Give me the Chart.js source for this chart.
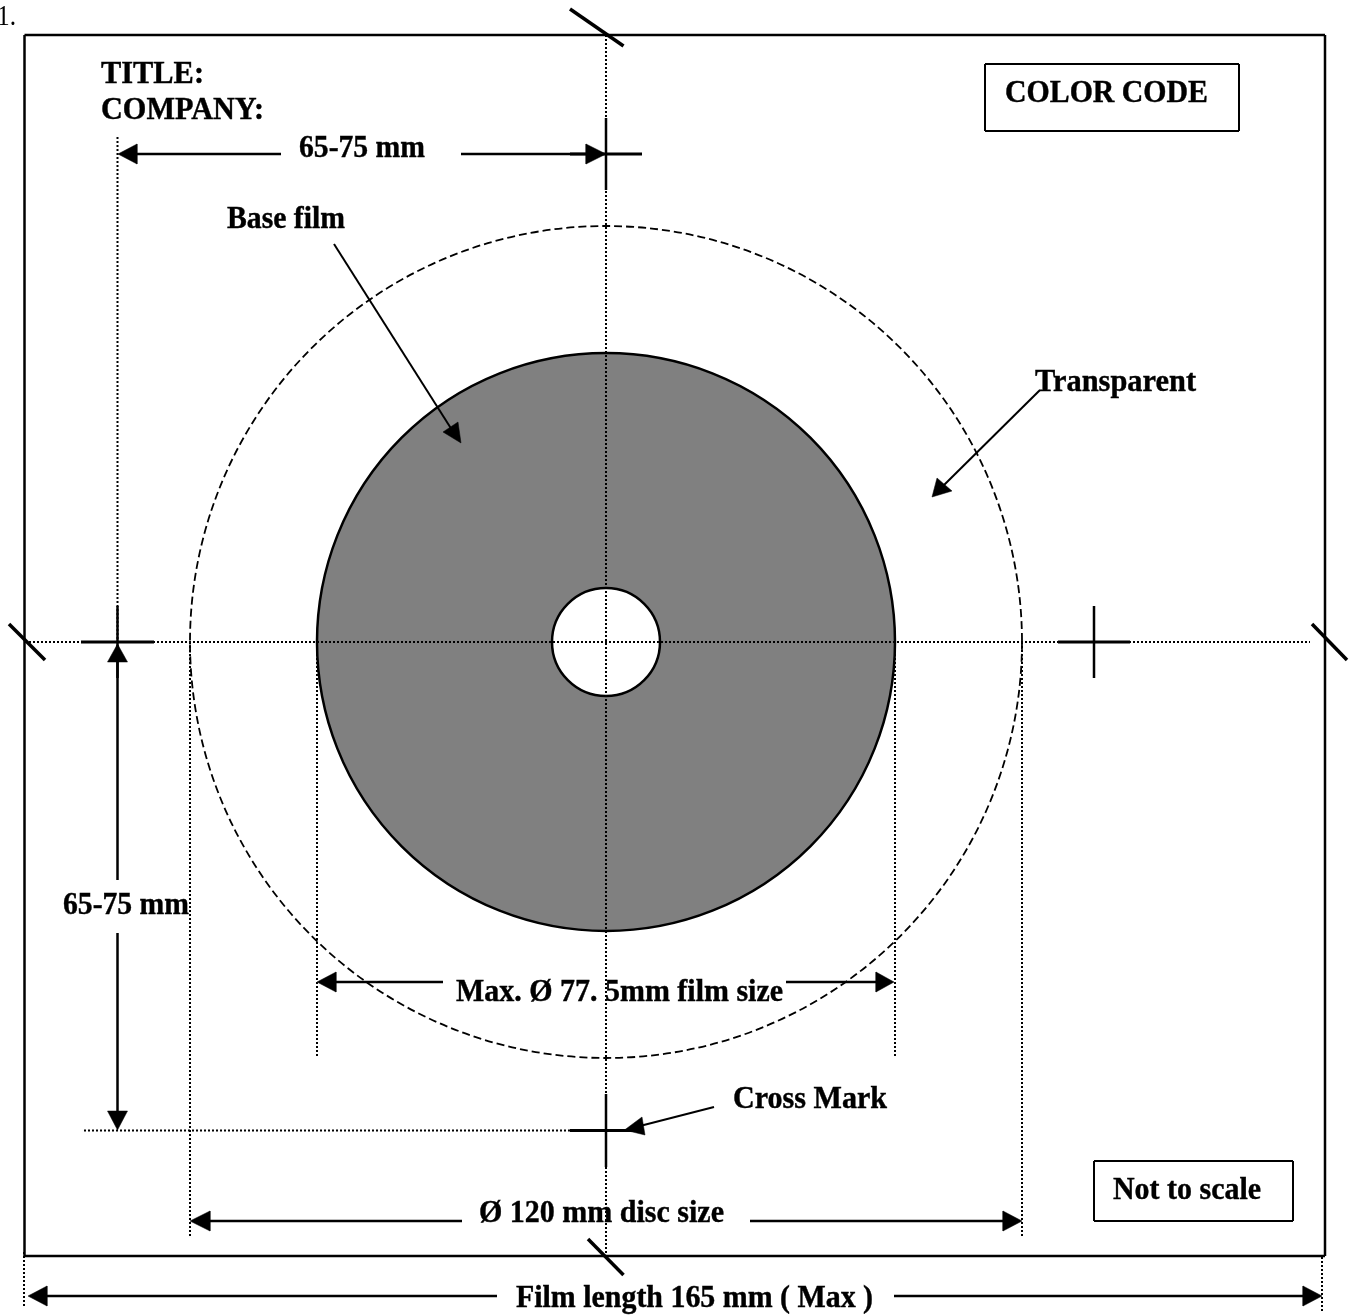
<!DOCTYPE html>
<html>
<head>
<meta charset="utf-8">
<style>html,body{margin:0;padding:0;background:#fff;overflow:hidden}canvas{display:block}</style>
<script src="https://cdn.jsdelivr.net/npm/chart.js@4"></script>
</head>
<body>
<canvas id="c" width="1355" height="1316"></canvas>
<script>
// Circles: [centre x, centre y, radius]
const filmDisc = [606, 642, 289];
const centreHole = [606, 642, 54];
const discOutline = [606, 642, 416];

// Line segments: [x1, y1, x2, y2]
const frameSides = [[24.5,35,1325,35],[1325,35,1325,1256],[1325,1256,24.5,1256],[24.5,1256,24.5,35]];
const colorBox = [[985,64,1239,64],[1239,64,1239,131],[1239,131,985,131],[985,131,985,64]];
const scaleBox = [[1094,1161,1293,1161],[1293,1161,1293,1221],[1293,1221,1094,1221],[1094,1221,1094,1161]];
const dottedGuides = [
  [606,35,606,1256],[25,642,1310,642],
  [117.5,137,117.5,660],[84,1130.5,570,1130.5],
  [190,642,190,1237],[1022,642,1022,1237],
  [317,642,317,1058],[895,642,895,1058],
  [24,1252,24,1308],[1322,1257,1322,1312]
];
const edgeTicks = [[570,9,623.5,46],[9,624,45,660],[1312,624,1347,660],[588,1239,623.5,1275]];
const crossVertical = [[606,118,606,190],[117.5,606,117.5,678],[1094,606,1094,678],[606,1094,606,1167]];
const crossHorizontal = [[570,154,642,154],[81,642,154,642],[1058,642,1130,642],[570,1130.5,642,1130.5]];
const dimensionLines = [
  [137,154,281,154],[461,154,590,154],
  [117.5,660,117.5,880],[117.5,933,117.5,1112],
  [336,982,443,982],[786,982,876,982],
  [210,1221,462,1221],[750,1221,1004,1221],
  [47,1296,497,1296],[894,1296,1304,1296]
];
const leaderLines = [[334,244,452,430],[1040,390,942,487],[714,1107,636,1127]];

// Arrow heads: three corners each, tip first
const arrowHeads = [
  [[118,154],[137,144],[137,164]],
  [[606,154],[586,144],[586,164]],
  [[117.5,644],[107.5,662],[127.5,662]],
  [[117.5,1130],[107.5,1111],[127.5,1111]],
  [[317,982],[336,972],[336,992]],
  [[894,982],[876,972],[876,992]],
  [[190,1221],[210,1211],[210,1231]],
  [[1022,1221],[1003,1211],[1003,1231]],
  [[28,1296],[47,1286],[47,1306]],
  [[1322,1296],[1303,1286],[1303,1306]],
  [[461,443],[443,432],[458,422]],
  [[932,497],[937,478],[952,491]],
  [[624.5,1130],[642,1117],[645,1135]]
];

// Text: [string, left x, baseline y, width on the page]
const boldLabels = [
  ["TITLE:",101,83,103],
  ["COMPANY:",101,119,163],
  ["65-75 mm",299,157,126],
  ["Base film",227,228,118],
  ["Transparent",1035,391,161],
  ["COLOR CODE",1005,102,203],
  ["65-75 mm",63,914,126],
  ["Max. Ø 77. 5mm film size",456,1001,327],
  ["Cross Mark",733,1108,154],
  ["Ø 120 mm disc size",479,1222,245],
  ["Film length 165 mm ( Max )",516,1307,357],
  ["Not to scale",1113,1199,148]
];
const plainLabels = [["1.",-3,25,19]];

const GREY = '#808080', INK = '#000000';

const segment = (s, width, dash) => ({
  type: 'scatter', showLine: true, tension: 0, pointRadius: 0,
  borderColor: INK, borderWidth: width, borderDash: dash || [], borderCapStyle: 'butt',
  data: [{x: s[0], y: s[1]}, {x: s[2], y: s[3]}]
});
const ring = (c, fill, width, dash) => ({
  type: 'scatter', showLine: false,
  data: [{x: c[0], y: c[1]}],
  ringDash: dash,
  pointBackgroundColor: fill, pointBorderColor: INK, pointBorderWidth: width, pointRadius: c[2]
});
const head = corners => ({
  type: 'scatter', showLine: true, tension: 0, pointRadius: 0,
  borderColor: INK, borderWidth: 0.5, backgroundColor: INK, fill: 'shape',
  data: corners.concat([corners[0]]).map(p => ({x: p[0], y: p[1]}))
});

// Listed bottom layer first; Chart.js paints the first dataset last, so the list is reversed.
const layers = [
  ring(discOutline, 'rgba(0,0,0,0)', 1.8, [8, 4]),
  ring(filmDisc, GREY, 2.5),
  ring(centreHole, '#ffffff', 2.5),
  ...dottedGuides.map(s => segment(s, 2, [2, 2])),
  ...frameSides.map(s => segment(s, 2.5)),
  ...colorBox.map(s => segment(s, 2)),
  ...scaleBox.map(s => segment(s, 2)),
  ...edgeTicks.map(s => segment(s, 3.5)),
  ...crossVertical.map(s => segment(s, 2.5)),
  ...crossHorizontal.map(s => segment(s, 3)),
  ...dimensionLines.map(s => segment(s, 2.5)),
  ...leaderLines.map(s => segment(s, 2)),
  ...arrowHeads.map(head)
].reverse();

const ringDashPlugin = {
  id: 'ringDash',
  beforeDatasetDraw(chart, args) {
    const d = chart.data.datasets[args.index];
    if (d.ringDash) chart.ctx.setLineDash(d.ringDash);
  },
  afterDatasetDraw(chart) { chart.ctx.setLineDash([]); }
};

const labelPlugin = {
  id: 'diagramLabels',
  afterDatasetsDraw(chart) {
    const {ctx, scales: {x, y}} = chart;
    ctx.save();
    ctx.fillStyle = INK;
    ctx.strokeStyle = INK;
    ctx.lineWidth = 0.4;
    ctx.textBaseline = 'alphabetic';
    ctx.textAlign = 'left';
    const put = (t, font, heavy) => {
      ctx.font = font;
      const px = x.getPixelForValue(t[1]), py = y.getPixelForValue(t[2]);
      ctx.fillText(t[0], px, py, t[3]);
      if (heavy) ctx.strokeText(t[0], px, py, t[3]);
    };
    boldLabels.forEach(t => put(t, 'bold 30.5px "Liberation Serif"', true));
    plainLabels.forEach(t => put(t, '30px "Liberation Serif"', false));
    ctx.restore();
  }
};

new Chart(document.getElementById('c'), {
  type: 'scatter',
  data: {datasets: layers},
  options: {
    responsive: false, animation: false, devicePixelRatio: 1,
    layout: {padding: 0, autoPadding: false},
    plugins: {legend: {display: false}, tooltip: {enabled: false}},
    scales: {
      x: {type: 'linear', min: 0, max: 1355, display: false},
      y: {type: 'linear', min: 0, max: 1316, reverse: true, display: false}
    }
  },
  plugins: [ringDashPlugin, labelPlugin]
});
</script>
</body>
</html>
